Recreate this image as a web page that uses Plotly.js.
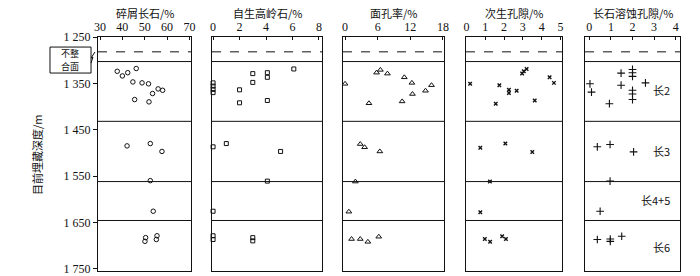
<!DOCTYPE html>
<html><head><meta charset="utf-8">
<script src="https://cdn.plot.ly/plotly-3.0.1.min.js"></script>
<style>html,body{margin:0;padding:0;background:#fff}#chart{width:700px;height:276px}</style>
</head><body><div id="chart"></div>
<script>
// ---- data ----
const depthTicks = [1250, 1350, 1450, 1550, 1650, 1750];
const depthTickText = ['1 250', '1 350', '1 450', '1 550', '1 650', '1 750'];

const panelTitles = ['碎屑长石/%', '自生高岭石/%', '面孔率/%', '次生孔隙/%', '长石溶蚀孔隙/%'];
const yTitle = '目前埋藏深度/m';
const unconformityText = ['不整', '合面'];

const feldsparTicks = [30, 40, 50, 60, 70];
const feldsparDepth = [1324, 1334, 1327, 1318, 1347, 1349, 1351, 1362, 1365, 1372, 1385, 1390, 1485, 1480, 1497, 1560, 1626, 1683, 1691, 1679, 1687];
const feldsparPct = [37.7, 40, 42.4, 46.2, 44.7, 48.8, 51.7, 56, 58, 53.5, 45.5, 51.9, 42.1, 52.5, 57.7, 52.5, 53.8, 50.4, 50.1, 55.5, 55.2];

const kaoliniteTicks = [0, 2, 4, 6, 8];
const kaoliniteDepth = [1349, 1356, 1363, 1370, 1329, 1348, 1327, 1337, 1319, 1364, 1392, 1387, 1487, 1480, 1497, 1561, 1626, 1679, 1687, 1683, 1690];
const kaolinitePct = [0, 0, 0, 0, 3.0, 3.0, 4.1, 4.1, 6.1, 2.0, 2.0, 4.1, 0, 1.0, 5.1, 4.1, 0, 0, 0, 3.0, 3.0];

const faceTicks = [0, 6, 12, 18];
const faceDepth = [1351, 1327, 1321, 1329, 1337, 1349, 1354, 1366, 1373, 1393, 1389, 1481, 1488, 1497, 1562, 1627, 1686, 1686, 1692, 1681];
const facePct = [0, 5.8, 6.5, 7.8, 10.9, 12.3, 15.9, 14.8, 12.4, 4.4, 10.5, 2.8, 3.6, 6.4, 1.9, 0.7, 1.2, 2.8, 4.2, 6.2];

const secondaryTicks = [0, 1, 2, 3, 4, 5];
const secondaryDepth = [1351, 1354, 1364, 1371, 1366, 1329, 1324, 1319, 1337, 1349, 1394, 1387, 1489, 1480, 1498, 1562, 1628, 1686, 1692, 1680, 1686];
const secondaryPct = [0.2, 1.75, 2.26, 2.26, 2.67, 2.96, 3.05, 3.2, 4.42, 4.65, 1.56, 3.63, 0.74, 2.07, 3.5, 1.25, 0.74, 0.98, 1.26, 1.9, 2.1];

const dissolTicks = [0, 1, 2, 3, 4];
const dissolDepth = [1351, 1369, 1394, 1328, 1354, 1320, 1327, 1335, 1365, 1373, 1385, 1349, 1487, 1482, 1498, 1561, 1626, 1687, 1686, 1691, 1680];
const dissolPct = [0.03, 0.1, 0.93, 1.47, 1.47, 2.0, 2.0, 2.0, 2.0, 2.0, 2.0, 2.6, 0.37, 0.96, 2.05, 0.96, 0.5, 0.37, 0.97, 0.97, 1.5];

const unconformityDepth = 1282;
const boundaryDepths = [1303, 1432, 1562, 1646];
const zoneNames = ['长2', '长3', '长4+5', '长6'];
const zoneDepths = [1364, 1497, 1602, 1703];
const zoneLabelX = 3.83;

// ---- layout helpers ----
const serif = 'Liberation Serif, Times New Roman, serif';
const cjk = 'Noto Sans CJK SC, sans-serif';
const domains = [[0, 0.1598], [0.1959, 0.3849], [0.4210, 0.5945], [0.6323, 0.7973], [0.8368, 1]];
const ranges = [[29.1, 70.7], [-0.08, 8.23], [-0.37, 18.2], [-0.02, 5.08], [-0.2, 4.2]];
const tickSets = [feldsparTicks, kaoliniteTicks, faceTicks, secondaryTicks, dissolTicks];

const series = [
  {x: feldsparPct, y: feldsparDepth, sym: 'circle-open', size: 4.5, w: 1},
  {x: kaolinitePct, y: kaoliniteDepth, sym: 'square-open', size: 4, w: 1},
  {x: facePct, y: faceDepth, sym: 'triangle-up-open', size: 5, w: 1},
  {x: secondaryPct, y: secondaryDepth, sym: 'x-thin-open', size: 3.5, w: 1.4},
  {x: dissolPct, y: dissolDepth, sym: 'cross-thin-open', size: 5.5, w: 1.1}
];

const traces = series.map((s, i) => ({
  type: 'scatter', mode: 'markers', x: s.x, y: s.y,
  xaxis: i === 0 ? 'x' : 'x' + (i + 1), yaxis: i === 0 ? 'y' : 'y' + (i + 1),
  marker: {symbol: s.sym, size: s.size, color: '#111', line: {color: '#111', width: s.w}},
  showlegend: false, hoverinfo: 'skip', cliponaxis: false
}));

const layout = {
  width: 700, height: 276,
  margin: {l: 98, r: 20, t: 37, b: 5},
  paper_bgcolor: '#fff', plot_bgcolor: '#fff',
  showlegend: false,
  shapes: [], annotations: []
};

for (let i = 0; i < 5; i++) {
  const xn = i === 0 ? 'xaxis' : 'xaxis' + (i + 1);
  const yn = i === 0 ? 'yaxis' : 'yaxis' + (i + 1);
  const yid = i === 0 ? 'y' : 'y' + (i + 1);
  const xid = i === 0 ? 'x' : 'x' + (i + 1);
  layout[xn] = {
    domain: domains[i], range: ranges[i], anchor: yid, side: 'top',
    tickvals: tickSets[i], ticktext: tickSets[i].map(String),
    ticks: 'inside', ticklen: 3, tickwidth: 1, tickcolor: '#111',
    showline: true, linecolor: '#111', linewidth: 1, mirror: true,
    showgrid: false, zeroline: false, fixedrange: true,
    tickfont: {family: serif, size: 12, color: '#111'}
  };
  layout[yn] = {
    domain: [0, 1], range: [1755, 1250], anchor: xid,
    tickvals: depthTicks, ticktext: depthTickText,
    showticklabels: i === 0, ticks: i === 0 ? 'outside' : '', ticklen: 4, tickcolor: '#111',
    showline: true, linecolor: '#111', linewidth: 1, mirror: true,
    showgrid: false, zeroline: false, fixedrange: true,
    tickfont: {family: serif, size: 12, color: '#111'}
  };
  if (i > 0) layout[yn].matches = 'y';
  layout.shapes.push({
    type: 'line', xref: xid + ' domain', yref: yid, x0: 0, x1: 1,
    y0: unconformityDepth, y1: unconformityDepth,
    line: {color: '#111', width: 1, dash: 'dash'}
  });
  boundaryDepths.forEach(d => layout.shapes.push({
    type: 'line', xref: xid + ' domain', yref: yid, x0: 0, x1: 1, y0: d, y1: d,
    line: {color: '#111', width: 1}
  }));
  const d = domains[i];
  layout.annotations.push({
    text: panelTitles[i], xref: 'paper', yref: 'paper',
    x: (d[0] + d[1]) / 2, y: 1.1026, showarrow: false,
    xanchor: 'center', yanchor: 'middle',
    font: {family: cjk, size: 11, color: '#111'}
  });
}

zoneNames.forEach((z, k) => layout.annotations.push({
  text: z, xref: 'x5', yref: 'y5', x: zoneLabelX, y: zoneDepths[k],
  showarrow: false, xanchor: 'right', yanchor: 'middle',
  font: {family: cjk, size: 11, color: '#111'}
}));

layout.annotations.push({
  text: yTitle, xref: 'paper', yref: 'paper', x: -0.1048, y: 0.4957,
  textangle: -90, showarrow: false, xanchor: 'center', yanchor: 'middle',
  font: {family: cjk, size: 11, color: '#111'}
});

// unconformity callout box
layout.shapes.push({
  type: 'rect', xref: 'paper', yref: 'paper',
  x0: -0.0825, x1: -0.0120, y0: 0.846, y1: 0.957,
  line: {color: '#111', width: 1}, fillcolor: '#fff', layer: 'above'
});
layout.shapes.push({
  type: 'path', xref: 'paper', yref: 'paper',
  path: 'M -0.0120 0.8889 L -0.0086 0.9145 L -0.0120 0.9103 L -0.0052 0.9359',
  line: {color: '#111', width: 1}, layer: 'above'
});
unconformityText.forEach((t, k) => layout.annotations.push({
  text: t, xref: 'paper', yref: 'paper', x: -0.0473, y: k === 0 ? 0.928 : 0.874,
  showarrow: false, xanchor: 'center', yanchor: 'middle',
  font: {family: cjk, size: 9, color: '#111'}
}));

Plotly.newPlot('chart', traces, layout, {staticPlot: true, displayModeBar: false});
</script>
</body></html>
